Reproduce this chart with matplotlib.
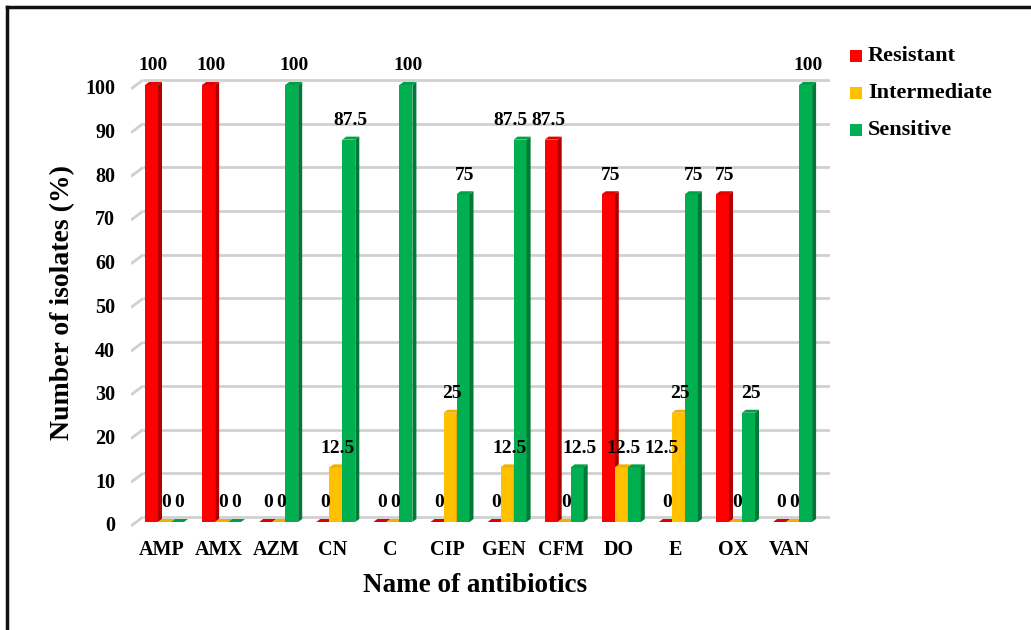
import numpy as np
import matplotlib
matplotlib.use("Agg")
from matplotlib import pyplot as plt
from matplotlib.patches import Polygon, Rectangle
from matplotlib.lines import Line2D

plt.rcParams['font.family'] = ['Liberation Serif', 'DejaVu Serif']
plt.rcParams['font.weight'] = 'bold'

#-------------------------------------------------------------------------------
# data
#-------------------------------------------------------------------------------

drugs = ['AMP', 'AMX', 'AZM', 'CN', 'C', 'CIP', 'GEN', 'CFM', 'DO', 'E', 'OX',
         'VAN']
resistant    = [100, 100,   0,    0,   0,  0,    0, 87.5, 75,   0, 75,   0]
intermediate = [  0,   0,   0, 12.5,   0, 25, 12.5,    0, 12.5, 25,  0,   0]
sensitive    = [  0,   0, 100, 87.5, 100, 75, 87.5, 12.5, 12.5, 75, 25, 100]
series_names = ['Resistant', 'Intermediate', 'Sensitive']
yticks = np.arange(0, 101, 10)

# face, side, top colours for each series
colors = [('#ff0000', '#b00000', '#e00000'),
          ('#ffc000', '#c89400', '#f0b000'),
          ('#00b050', '#007a36', '#00a048')]

#-------------------------------------------------------------------------------
# layout (pixels -> data)
#-------------------------------------------------------------------------------

W, H = 1031, 630
px_x = 57.1    # pixels per category
px_y = 4.37    # pixels per percent
x0_px = 164.5  # pixel of first group centre
y0_px = 522    # pixel of front floor

left_px, right_px = 131, 830
bot_px, top_px = 540, 50

fig = plt.figure(figsize=(W/100, H/100), dpi=100)
ax = fig.add_axes([left_px/W, 1 - bot_px/H, (right_px-left_px)/W,
                   (bot_px-top_px)/H])
ax.set_xlim((left_px - x0_px)/px_x, (right_px - x0_px)/px_x)
ax.set_ylim(-(bot_px - y0_px)/px_y, (y0_px - top_px)/px_y)
ax.axis('off')

xmin, xmax = ax.get_xlim()

# gridlines on the back wall with a slanted stub on the left wall
back_dy = 1.15
for v in yticks:
  ax.plot([xmin, xmin + 12/px_x], [v + back_dy - 9/px_y, v + back_dy],
          color='#d0d0d0', lw=2, solid_capstyle='butt', zorder=1)
  ax.plot([xmin + 12/px_x, xmax], [v + back_dy, v + back_dy],
          color='#d0d0d0', lw=2, solid_capstyle='butt', zorder=1)
  ax.text((115 - x0_px)/px_x, v - 1, '%d' % v, ha='right', va='center',
          fontsize=14.5, fontweight='bold', clip_on=False)

#-------------------------------------------------------------------------------
# bars with a bit of depth
#-------------------------------------------------------------------------------

bw = 13/px_x
dx = 4/px_x
dy = 3/px_y

def draw_bar(xl, v, cols, z):
  face, side, top = cols
  ax.add_patch(Rectangle((xl, 0), bw, v, fc=face, ec='none', zorder=z))
  ax.add_patch(Polygon([(xl+bw, 0), (xl+bw+dx, dy), (xl+bw+dx, v+dy),
                        (xl+bw, v)], closed=True, fc=side, ec='none',
                       zorder=z))
  ax.add_patch(Polygon([(xl, v), (xl+dx, v+dy), (xl+bw+dx, v+dy),
                        (xl+bw, v)], closed=True, fc=top, ec='none',
                       zorder=z))

# label nudges (pixels) where labels would overlap
nudge = {(8, 2): 25, (6, 2): -12, (7, 0): -5}

series = [resistant, intermediate, sensitive]
z = 2
for i in range(len(drugs)):
  for k, vals in enumerate(series):
    xl = i + (k - 1.5)*bw
    v = vals[i]
    draw_bar(xl, v, colors[k], z)
    z += 1
    xc = xl + bw/2 + dx/2 + nudge.get((i, k), 0)/px_x
    ax.text(xc, v + 4.4, '%g' % v, ha='center', va='center', fontsize=14,
            fontweight='bold', zorder=100, clip_on=False)

for i, d in enumerate(drugs):
  ax.text(i - 0.05, -(550 - y0_px)/px_y, d, ha='center', va='center',
          fontsize=14.5, fontweight='bold', clip_on=False)

#-------------------------------------------------------------------------------
# titles, legend, frame
#-------------------------------------------------------------------------------

fig.text(475/W, 1 - 585/H, 'Name of antibiotics', ha='center', va='center',
         fontsize=19.5, fontweight='bold')
fig.text(63/W, 1 - 302/H, 'Number of isolates (%)', ha='center', va='center',
         rotation=90, fontsize=20, fontweight='bold')

for k, name in enumerate(series_names):
  yc = 56 + 37*k
  fig.patches.append(Rectangle((850/W, 1 - (yc+6)/H), 12/W, 12/H,
                               transform=fig.transFigure,
                               fc=colors[k][0], ec='none'))
  fig.text(868/W, 1 - yc/H, name, ha='left', va='center', fontsize=16,
           fontweight='bold')

fig.add_artist(Line2D([7/W, 1], [1 - 7/H, 1 - 7/H], color='#111111', lw=2.5,
                      transform=fig.transFigure))
fig.add_artist(Line2D([7/W, 7/W], [1 - 7/H, 0], color='#111111', lw=2.5,
                      transform=fig.transFigure))

fig.savefig('out.png', dpi=100)
